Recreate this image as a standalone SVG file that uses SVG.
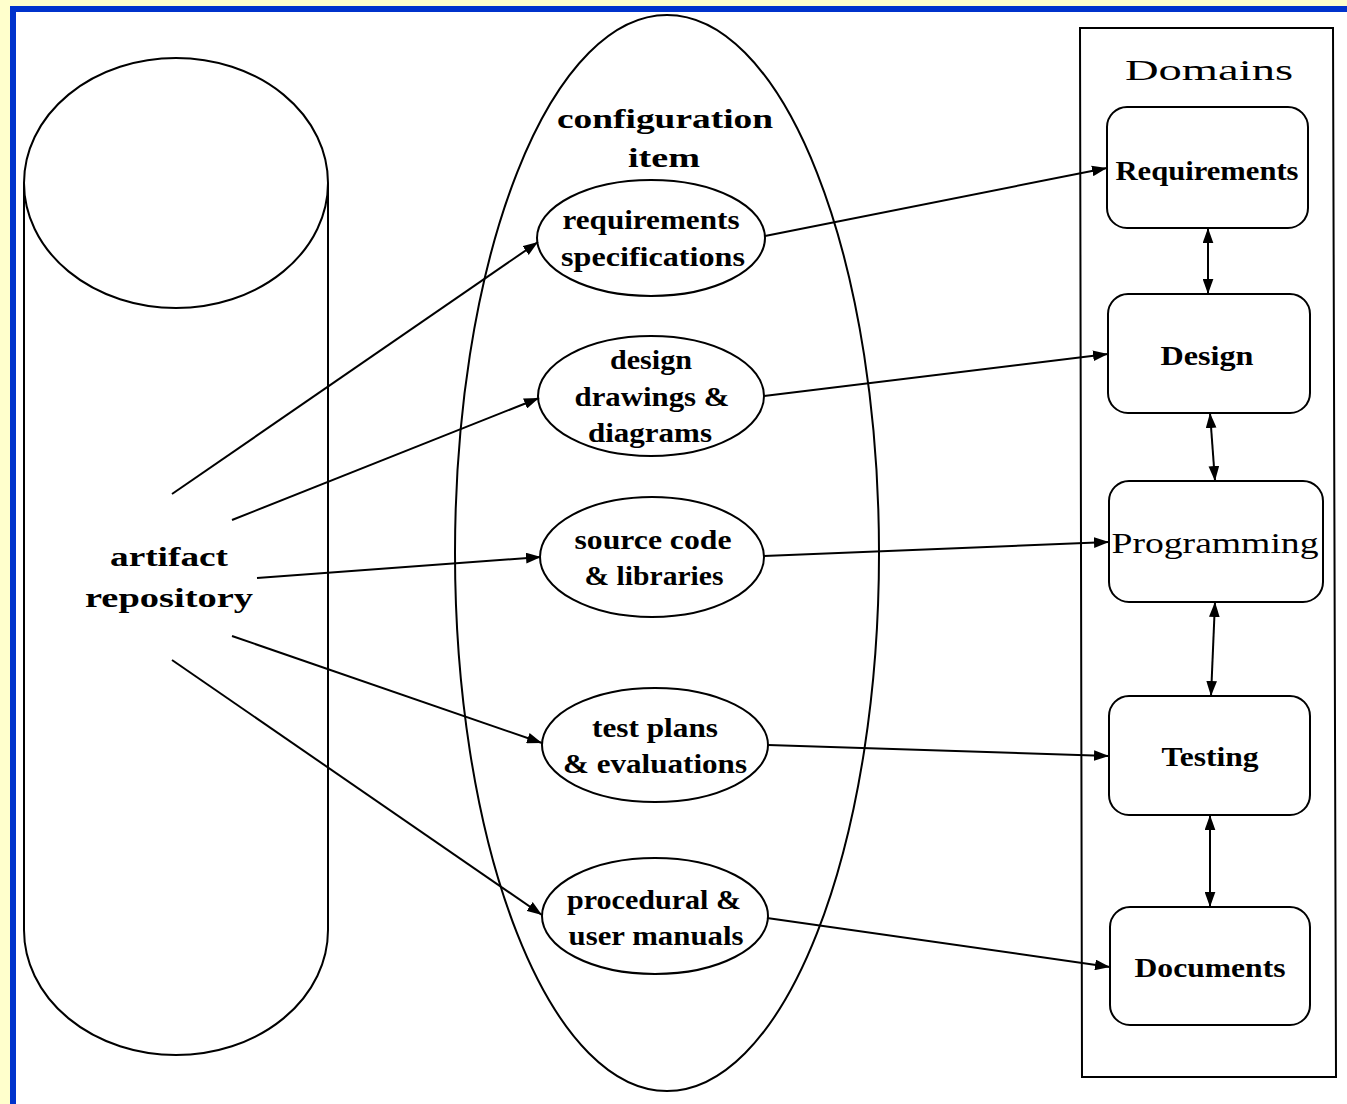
<svg xmlns="http://www.w3.org/2000/svg" width="1347" height="1104" viewBox="0 0 1347 1104">
  <defs>
    <marker id="arrow" viewBox="0 0 14 10" refX="14" refY="5" markerWidth="15" markerHeight="11" markerUnits="userSpaceOnUse" orient="auto-start-reverse">
      <path d="M0,0 L14,5 L0,10 z" fill="#000"/>
    </marker>
  </defs>
  <style>
    .shape { fill: #fff; stroke: #000; stroke-width: 2; }
    .edge { fill: none; stroke: #000; stroke-width: 2; }
    .lbl { font-family: "Liberation Serif", "Times New Roman", serif; font-weight: bold; font-size: 28px; fill: #000; text-anchor: middle; }
    .reg { font-family: "Liberation Serif", "Times New Roman", serif; font-size: 30px; fill: #000; text-anchor: middle; }
  </style>

  <!-- page frame -->
  <rect x="0" y="0" width="1347" height="1104" fill="#ffffcc"/>
  <rect x="13" y="9" width="1340" height="1100" fill="#fff" stroke="#0033cc" stroke-width="6"/>

  <!-- artifact repository cylinder -->
  <g id="artifact-repository">
    <path class="shape" d="M24,183 L24,930 A152,125 0 0 0 328,930 L328,183"/>
    <ellipse class="shape" cx="176" cy="183" rx="152" ry="125"/>
    <text class="lbl" x="169" y="566" font-size="30" textLength="118" lengthAdjust="spacingAndGlyphs">artifact</text>
    <text class="lbl" x="169" y="607" font-size="30" textLength="168" lengthAdjust="spacingAndGlyphs">repository</text>
  </g>

  <!-- configuration item container -->
  <g id="configuration-item">
    <ellipse class="shape" cx="667" cy="553" rx="212" ry="538"/>
    <text class="lbl" x="665" y="128" font-size="30" textLength="216" lengthAdjust="spacingAndGlyphs">configuration</text>
    <text class="lbl" x="664" y="167" font-size="30" textLength="72" lengthAdjust="spacingAndGlyphs">item</text>
  </g>

  <g id="ci-requirements">
    <ellipse class="shape" cx="651" cy="238" rx="114" ry="58"/>
    <text class="lbl" x="651" y="229" textLength="177" lengthAdjust="spacingAndGlyphs">requirements</text>
    <text class="lbl" x="653" y="266" textLength="184" lengthAdjust="spacingAndGlyphs">specifications</text>
  </g>
  <g id="ci-design">
    <ellipse class="shape" cx="651" cy="396" rx="113" ry="60"/>
    <text class="lbl" x="651" y="369" textLength="82" lengthAdjust="spacingAndGlyphs">design</text>
    <text class="lbl" x="652" y="406" textLength="155" lengthAdjust="spacingAndGlyphs">drawings &amp;</text>
    <text class="lbl" x="650" y="442" textLength="124" lengthAdjust="spacingAndGlyphs">diagrams</text>
  </g>
  <g id="ci-source">
    <ellipse class="shape" cx="652" cy="557" rx="112" ry="60"/>
    <text class="lbl" x="653" y="549" textLength="157" lengthAdjust="spacingAndGlyphs">source code</text>
    <text class="lbl" x="654" y="585" textLength="139" lengthAdjust="spacingAndGlyphs">&amp; libraries</text>
  </g>
  <g id="ci-testing">
    <ellipse class="shape" cx="655" cy="745" rx="113" ry="57"/>
    <text class="lbl" x="655" y="737" textLength="126" lengthAdjust="spacingAndGlyphs">test plans</text>
    <text class="lbl" x="655" y="773" textLength="184" lengthAdjust="spacingAndGlyphs">&amp; evaluations</text>
  </g>
  <g id="ci-manuals">
    <ellipse class="shape" cx="655" cy="916" rx="113" ry="58"/>
    <text class="lbl" x="654" y="909" textLength="174" lengthAdjust="spacingAndGlyphs">procedural &amp;</text>
    <text class="lbl" x="656" y="945" textLength="175" lengthAdjust="spacingAndGlyphs">user manuals</text>
  </g>

  <!-- domains panel -->
  <g id="domains">
    <path class="edge" d="M1080,28 L1333,28 L1336,1077 L1082,1077 Z"/>
    <text class="reg" x="1209" y="80" font-size="46" textLength="168" lengthAdjust="spacingAndGlyphs">Domains</text>
  </g>
  <g id="dom-requirements">
    <rect class="shape" x="1107" y="107" width="201" height="121" rx="20"/>
    <text class="lbl" x="1207" y="180" textLength="183" lengthAdjust="spacingAndGlyphs">Requirements</text>
  </g>
  <g id="dom-design">
    <rect class="shape" x="1108" y="294" width="202" height="119" rx="20"/>
    <text class="lbl" x="1207" y="365" textLength="93" lengthAdjust="spacingAndGlyphs">Design</text>
  </g>
  <g id="dom-programming">
    <rect class="shape" x="1109" y="481" width="214" height="121" rx="20"/>
    <text class="reg" x="1215" y="553" font-size="32" textLength="207" lengthAdjust="spacingAndGlyphs">Programming</text>
  </g>
  <g id="dom-testing">
    <rect class="shape" x="1109" y="696" width="201" height="119" rx="20"/>
    <text class="lbl" x="1210" y="766" textLength="97" lengthAdjust="spacingAndGlyphs">Testing</text>
  </g>
  <g id="dom-documents">
    <rect class="shape" x="1110" y="907" width="200" height="118" rx="20"/>
    <text class="lbl" x="1210" y="977" textLength="151" lengthAdjust="spacingAndGlyphs">Documents</text>
  </g>

  <!-- connectors -->
  <g id="connectors">
    <line class="edge" x1="172" y1="494" x2="538" y2="242" marker-end="url(#arrow)"/>
    <line class="edge" x1="232" y1="520" x2="539" y2="398" marker-end="url(#arrow)"/>
    <line class="edge" x1="257" y1="578" x2="541" y2="557" marker-end="url(#arrow)"/>
    <line class="edge" x1="232" y1="636" x2="542" y2="743" marker-end="url(#arrow)"/>
    <line class="edge" x1="172" y1="660" x2="542" y2="915" marker-end="url(#arrow)"/>

    <line class="edge" x1="765" y1="236" x2="1107" y2="168" marker-end="url(#arrow)"/>
    <line class="edge" x1="764" y1="396" x2="1108" y2="354" marker-end="url(#arrow)"/>
    <line class="edge" x1="764" y1="556" x2="1109" y2="542" marker-end="url(#arrow)"/>
    <line class="edge" x1="768" y1="745" x2="1109" y2="756" marker-end="url(#arrow)"/>
    <line class="edge" x1="767" y1="918" x2="1110" y2="967" marker-end="url(#arrow)"/>

    <line class="edge" x1="1208" y1="228" x2="1208" y2="294" marker-start="url(#arrow)" marker-end="url(#arrow)"/>
    <line class="edge" x1="1210" y1="413" x2="1215" y2="481" marker-start="url(#arrow)" marker-end="url(#arrow)"/>
    <line class="edge" x1="1215" y1="602" x2="1211" y2="696" marker-start="url(#arrow)" marker-end="url(#arrow)"/>
    <line class="edge" x1="1210" y1="815" x2="1210" y2="907" marker-start="url(#arrow)" marker-end="url(#arrow)"/>
  </g>
</svg>
